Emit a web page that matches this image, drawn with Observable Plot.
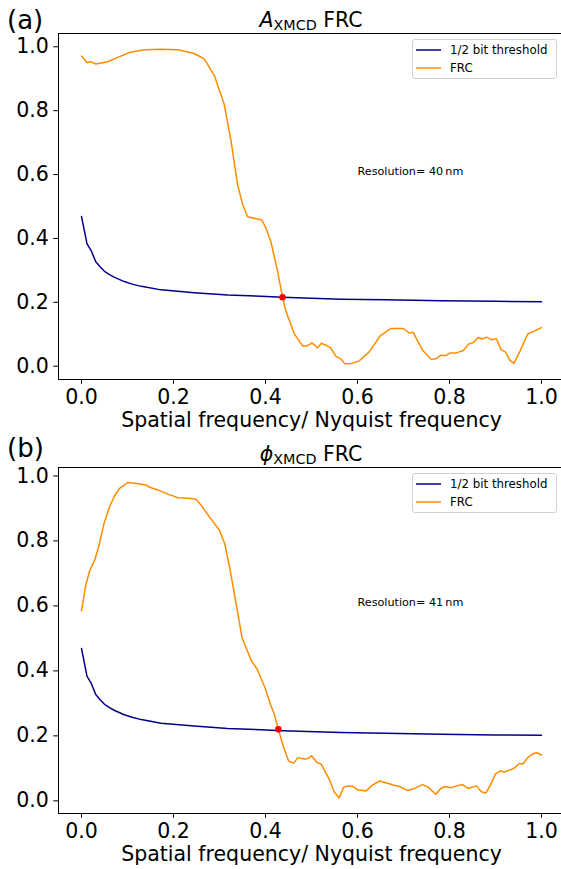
<!DOCTYPE html>
<html>
<head>
<meta charset="utf-8">
<script src="https://cdn.jsdelivr.net/npm/d3@7"></script>
<script src="https://cdn.jsdelivr.net/npm/@observablehq/plot@0.6"></script>
<style>
  html, body { margin: 0; padding: 0; background: #fff; overflow: hidden; }
  #fig { position: relative; width: 561px; height: 869px; overflow: hidden; font-family: "DejaVu Sans", sans-serif; color: #000; }
  .panel { position: absolute; left: 0; width: 564px; }
  .plabel { position: absolute; left: 7px; font-size: 26px; line-height: 26px; white-space: nowrap; }
  .title { position: absolute; left: 58px; width: 506px; text-align: center; font-size: 20.5px; line-height: 20.5px; white-space: nowrap; }
  .title .sym { font-style: italic; }
  .title .sub { font-size: 0.7em; position: relative; top: 0.22em; }
  .legend { position: absolute; left: 412px; width: 145px; box-sizing: border-box; border: 1px solid #d0d0d0; border-radius: 3px;
            padding: 2px 0 2px 3px; font-size: 11.8px; background: rgba(255,255,255,0.8); }
  .legend .row { display: flex; align-items: center; height: 17.4px; white-space: nowrap; }
  .legend svg { margin-right: 9px; }
</style>
</head>
<body>
<div id="fig"></div>
<script>
// ---------- data ----------
const xTicks = [0, 0.2, 0.4, 0.6, 0.8, 1.0];
const yTicks = [0, 0.2, 0.4, 0.6, 0.8, 1.0];
const xLabel = "Spatial frequency/ Nyquist frequency";
const seriesNames = ["1/2 bit threshold", "FRC"];
const seriesColors = ["#00008b", "#ff8c00"];
const crossColor = "red";
const panelLabels = ["(a)", "(b)"];
const panelLabelBaselines = [29, 23];
const titleSymbols = ["A", "\u03d5"];
const titleSub = "XMCD";
const titleRest = " FRC";
const resolutionTexts = ["Resolution= 40\u2009nm", "Resolution= 41\u2009nm"];
const resolutionAt = [0.6, 0.6];

// 1/2 bit threshold (same in both panels)
const thresholdX = [0, 0.012, 0.021, 0.031, 0.04, 0.05, 0.061, 0.072, 0.093, 0.11, 0.13, 0.173, 0.245, 0.318, 0.39, 0.437, 0.564, 0.66, 0.781, 0.9, 1.0];
const thresholdY = [0.469, 0.383, 0.362, 0.327, 0.312, 0.297, 0.287, 0.278, 0.265, 0.257, 0.250, 0.239, 0.230, 0.223, 0.219, 0.216, 0.210, 0.208, 0.205, 0.203, 0.202];

// (a) A_XMCD FRC
const frcAX = [0, 0.012, 0.021, 0.031, 0.057, 0.079, 0.104, 0.137, 0.173, 0.209, 0.245, 0.267, 0.289, 0.310, 0.325, 0.339, 0.350, 0.361, 0.392, 0.401, 0.412, 0.426, 0.437, 0.444, 0.462, 0.481, 0.491, 0.501, 0.513, 0.522, 0.541, 0.553, 0.564, 0.572, 0.585, 0.603, 0.625, 0.650, 0.672, 0.700, 0.712, 0.721, 0.741, 0.760, 0.770, 0.781, 0.791, 0.801, 0.813, 0.830, 0.842, 0.852, 0.862, 0.871, 0.881, 0.891, 0.902, 0.912, 0.922, 0.931, 0.940, 0.954, 0.970, 0.983, 1.0];
const frcAY = [0.971, 0.951, 0.953, 0.946, 0.953, 0.967, 0.982, 0.991, 0.992, 0.991, 0.979, 0.962, 0.909, 0.821, 0.706, 0.571, 0.508, 0.468, 0.458, 0.432, 0.388, 0.299, 0.216, 0.174, 0.103, 0.063, 0.064, 0.073, 0.058, 0.072, 0.059, 0.031, 0.023, 0.008, 0.008, 0.016, 0.044, 0.096, 0.118, 0.118, 0.104, 0.106, 0.051, 0.022, 0.023, 0.034, 0.033, 0.041, 0.041, 0.049, 0.070, 0.074, 0.090, 0.085, 0.091, 0.083, 0.086, 0.052, 0.044, 0.019, 0.009, 0.049, 0.101, 0.109, 0.121];
const crossA = [0.437, 0.216];

// (b) phi_XMCD FRC
const frcBX = [0, 0.009, 0.018, 0.029, 0.038, 0.049, 0.061, 0.072, 0.083, 0.101, 0.119, 0.141, 0.148, 0.166, 0.188, 0.210, 0.231, 0.249, 0.260, 0.278, 0.300, 0.311, 0.322, 0.333, 0.349, 0.369, 0.382, 0.399, 0.411, 0.419, 0.428, 0.440, 0.450, 0.461, 0.471, 0.484, 0.492, 0.500, 0.512, 0.521, 0.539, 0.549, 0.560, 0.570, 0.580, 0.589, 0.600, 0.618, 0.633, 0.649, 0.665, 0.680, 0.690, 0.709, 0.722, 0.741, 0.753, 0.770, 0.781, 0.790, 0.803, 0.816, 0.828, 0.840, 0.859, 0.869, 0.879, 0.889, 0.900, 0.911, 0.920, 0.940, 0.951, 0.960, 0.970, 0.983, 0.990, 1.0];
const frcBY = [0.585, 0.663, 0.709, 0.742, 0.786, 0.854, 0.905, 0.939, 0.962, 0.980, 0.977, 0.972, 0.965, 0.957, 0.944, 0.933, 0.931, 0.928, 0.910, 0.874, 0.833, 0.793, 0.719, 0.632, 0.502, 0.432, 0.405, 0.348, 0.296, 0.267, 0.220, 0.162, 0.123, 0.116, 0.133, 0.129, 0.130, 0.139, 0.118, 0.113, 0.065, 0.028, 0.009, 0.042, 0.046, 0.045, 0.034, 0.030, 0.049, 0.061, 0.054, 0.048, 0.045, 0.032, 0.037, 0.050, 0.043, 0.020, 0.038, 0.044, 0.040, 0.046, 0.050, 0.038, 0.046, 0.028, 0.024, 0.049, 0.083, 0.092, 0.089, 0.100, 0.114, 0.114, 0.133, 0.146, 0.148, 0.141];
const crossB = [0.428, 0.220];

const xDomain = [-0.05, 1.05];
const yDomainA = [-0.0416, 1.0416];
const yDomainB = [-0.039, 1.026];

// ---------- drawing ----------
const fig = document.getElementById("fig");
const W = 564, H = 435, mL = 58, mT = 33, mB = 56;

function toRows(xs, ys) { return xs.map((x, i) => ({x, y: ys[i]})); }

function makePanel(i, frcX, frcY, cross, yDomain, top) {
  const wrap = document.createElement("div");
  wrap.className = "panel";
  wrap.style.top = top + "px";
  wrap.style.height = H + "px";

  const chart = Plot.plot({
    width: W, height: H,
    marginLeft: mL, marginRight: 0, marginTop: mT, marginBottom: mB,
    style: {fontFamily: "DejaVu Sans, sans-serif", fontSize: "20.5px", color: "#000", background: "transparent"},
    x: {domain: xDomain},
    y: {domain: yDomain},
    marks: [
      Plot.ruleY([yDomain[0], yDomain[1]], {stroke: "#000", strokeWidth: 1}),
      Plot.ruleX([xDomain[0]], {stroke: "#000", strokeWidth: 1}),
      Plot.axisX({ticks: xTicks, tickFormat: d3.format(".1f"), tickSize: 4.8, tickPadding: 5,
                  label: xLabel, labelAnchor: "center", labelArrow: "none", labelOffset: 47}),
      Plot.axisY({ticks: yTicks, tickFormat: d3.format(".1f"), tickSize: 4.8, tickPadding: 4.8, label: null}),
      Plot.line(toRows(thresholdX, thresholdY), {x: "x", y: "y", stroke: seriesColors[0], strokeWidth: 1.5}),
      Plot.line(toRows(frcX, frcY), {x: "x", y: "y", stroke: seriesColors[1], strokeWidth: 1.5}),
      Plot.dot([{x: cross[0], y: cross[1]}], {x: "x", y: "y", r: 3.3, fill: crossColor, stroke: "none"}),
      Plot.text([{x: resolutionAt[0], y: resolutionAt[1], t: resolutionTexts[i]}],
                {x: "x", y: "y", text: "t", textAnchor: "start", lineAnchor: "bottom", fontSize: 11.2, fill: "#000"})
    ]
  });
  wrap.appendChild(chart);

  // panel label
  const pl = document.createElement("div");
  pl.className = "plabel";
  pl.textContent = panelLabels[i];
  pl.style.top = (panelLabelBaselines[i] - 22) + "px";
  wrap.appendChild(pl);

  // title (baseline ~27)
  const t = document.createElement("div");
  t.className = "title";
  t.innerHTML = `<span class="sym">${titleSymbols[i]}</span><span class="sub">${titleSub}</span>${titleRest}`;
  t.style.top = (27 - 17.34) + "px";
  wrap.appendChild(t);

  // legend
  const lg = document.createElement("div");
  lg.className = "legend";
  lg.style.top = (mT + 5.5) + "px";
  seriesNames.forEach((name, k) => {
    const row = document.createElement("div");
    row.className = "row";
    row.innerHTML = `<svg width="25" height="8"><line x1="0" x2="25" y1="4" y2="4" stroke="${seriesColors[k]}" stroke-width="1.5"/></svg><span>${name}</span>`;
    lg.appendChild(row);
  });
  wrap.appendChild(lg);

  fig.appendChild(wrap);
}

makePanel(0, frcAX, frcAY, crossA, yDomainA, 0);
makePanel(1, frcBX, frcBY, crossB, yDomainB, 434);
</script>
</body>
</html>
